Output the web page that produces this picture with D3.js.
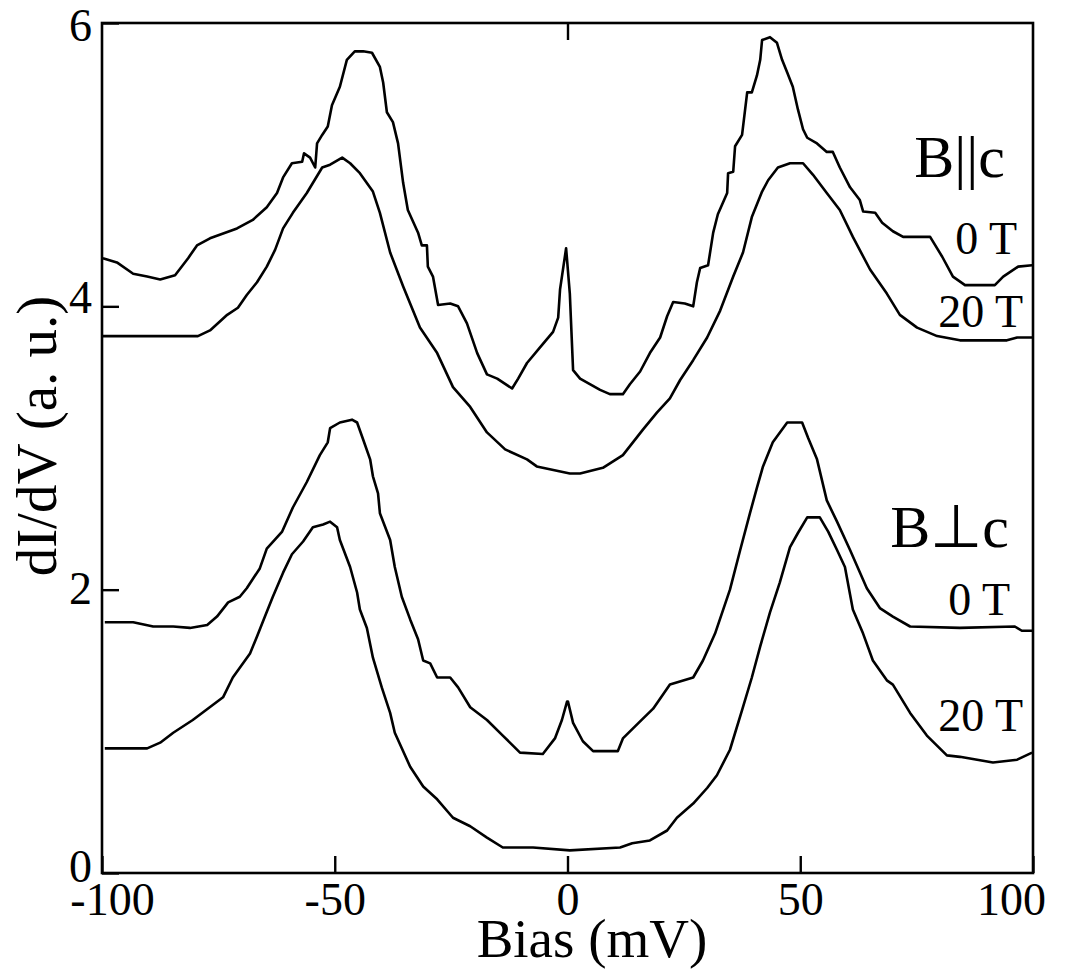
<!DOCTYPE html>
<html>
<head>
<meta charset="utf-8">
<script src="https://cdn.jsdelivr.net/npm/d3@7"></script>
<style>
  html, body { margin: 0; padding: 0; background: #fff; }
  svg { display: block; }
  text { font-family: "Liberation Serif", "Times New Roman", serif; fill: #000; }
</style>
</head>
<body>
<div id="chart"></div>
<script>
// ---------------- data ----------------
const xTicks = [-100, -50, 0, 50, 100];
const yTicks = [0, 2, 4, 6];
const topTicks = [0];

// B || c, 0 T  [bias (mV), dI/dV]
const parallel0T = [
  [-99.8,4.34],[-96.8,4.31],[-93.3,4.23],[-90.3,4.21],[-87.5,4.19],[-84.3,4.22],[-81.5,4.34],
  [-79.6,4.43],[-76.8,4.48],[-71.0,4.55],[-67.6,4.61],[-64.6,4.70],[-62.4,4.80],[-61.1,4.91],
  [-59.2,5.01],[-57.0,5.02],[-56.6,5.08],[-55.3,5.05],[-54.2,4.98],[-53.8,5.15],[-52.7,5.21],
  [-51.5,5.27],[-50.6,5.42],[-48.9,5.55],[-47.4,5.74],[-45.7,5.80],[-43.9,5.80],[-42.0,5.79],
  [-40.3,5.69],[-39.6,5.58],[-38.8,5.37],[-37.5,5.30],[-36.4,5.15],[-35.3,4.87],[-34.3,4.68],
  [-32.1,4.52],[-31.3,4.43],[-30.2,4.43],[-30.0,4.28],[-28.9,4.21],[-27.8,4.01],[-25.2,4.02],
  [-23.5,4.00],[-21.6,3.88],[-19.4,3.67],[-17.3,3.52],[-15.1,3.49],[-11.9,3.42],[-10.6,3.49],
  [-8.7,3.60],[-5.9,3.71],[-3.1,3.82],[-2.0,3.92],[-1.6,4.12],[-0.3,4.41],[0.5,4.09],
  [1.2,3.55],[2.7,3.49],[7.0,3.41],[9.1,3.38],[11.9,3.38],[13.4,3.45],[15.6,3.54],
  [17.7,3.67],[19.9,3.78],[21.4,3.93],[22.7,4.03],[25.2,4.02],[27.0,4.00],[27.8,4.17],
  [28.5,4.27],[30.2,4.29],[31.3,4.52],[32.3,4.65],[34.3,4.80],[34.5,4.94],[35.6,4.95],
  [36.0,5.13],[37.5,5.21],[38.6,5.51],[39.6,5.51],[40.7,5.63],[41.4,5.74],[41.8,5.88],
  [43.5,5.90],[45.0,5.86],[46.1,5.74],[47.2,5.65],[48.4,5.55],[49.5,5.39],[50.6,5.25],
  [51.5,5.19],[53.6,5.15],[55.7,5.09],[57.0,5.09],[58.5,4.98],[60.7,4.84],[62.8,4.75],
  [63.5,4.67],[66.1,4.66],[67.6,4.59],[69.9,4.53],[72.1,4.49],[77.9,4.49],[80.5,4.35],
  [82.8,4.21],[85.4,4.15],[91.8,4.15],[93.6,4.21],[96.8,4.28],[99.8,4.29]
];

// B || c, 20 T
const parallel20T = [
  [-99.8,3.79],[-79.4,3.79],[-76.8,3.83],[-73.1,3.94],[-70.8,3.99],[-68.9,4.08],[-66.7,4.17],
  [-64.6,4.28],[-62.8,4.40],[-61.1,4.55],[-59.0,4.66],[-56.0,4.80],[-52.7,4.98],[-51.0,5.00],
  [-48.4,5.05],[-46.7,5.01],[-44.6,4.94],[-41.8,4.81],[-40.3,4.66],[-38.1,4.38],[-35.3,4.14],
  [-31.7,3.85],[-28.0,3.67],[-24.6,3.43],[-20.9,3.29],[-17.3,3.11],[-13.4,2.99],[-8.7,2.92],
  [-6.6,2.87],[0.5,2.82],[2.7,2.82],[7.6,2.86],[11.9,2.95],[16.2,3.13],[19.2,3.25],
  [22.0,3.35],[24.2,3.48],[27.0,3.62],[30.0,3.78],[32.8,3.97],[35.6,4.21],[37.7,4.38],
  [39.6,4.63],[41.8,4.81],[43.1,4.89],[45.2,4.98],[47.8,5.01],[50.6,5.01],[52.7,4.93],
  [55.7,4.80],[58.5,4.68],[61.3,4.49],[65.0,4.26],[68.6,4.09],[71.4,3.94],[75.1,3.85],
  [79.4,3.79],[84.3,3.76],[94.4,3.76],[96.6,3.78],[99.8,3.78]
];

// B ⊥ c, 0 T
const perp0T = [
  [-99.4,1.77],[-93.3,1.77],[-89.0,1.74],[-84.7,1.74],[-81.1,1.73],[-77.4,1.75],[-75.3,1.81],
  [-72.9,1.91],[-70.4,1.95],[-68.9,2.01],[-66.1,2.15],[-64.6,2.29],[-61.3,2.41],[-59.0,2.58],
  [-56.0,2.76],[-53.2,2.95],[-51.5,3.04],[-51.0,3.14],[-48.9,3.18],[-46.3,3.20],[-45.2,3.18],
  [-43.9,3.06],[-42.4,2.92],[-41.8,2.80],[-40.7,2.68],[-40.3,2.54],[-38.1,2.35],[-37.1,2.16],
  [-35.6,1.95],[-33.8,1.79],[-32.1,1.65],[-31.0,1.50],[-29.5,1.48],[-28.0,1.38],[-25.2,1.38],
  [-23.5,1.31],[-20.9,1.17],[-17.3,1.08],[-13.9,0.97],[-10.2,0.85],[-5.3,0.84],[-2.7,0.95],
  [-1.2,1.08],[-0.1,1.21],[0.1,1.21],[1.2,1.06],[3.3,0.93],[5.5,0.86],[10.8,0.86],
  [11.9,0.95],[15.6,1.07],[18.4,1.16],[22.0,1.33],[27.0,1.38],[29.1,1.50],[31.7,1.69],
  [34.9,2.00],[37.1,2.28],[39.2,2.54],[40.7,2.72],[42.0,2.87],[44.1,3.04],[47.2,3.18],
  [50.4,3.18],[51.7,3.07],[53.6,2.92],[55.7,2.63],[57.9,2.48],[60.7,2.28],[64.3,2.01],
  [67.1,1.87],[69.9,1.81],[73.6,1.74],[84.3,1.73],[96.1,1.74],[97.6,1.71],[99.8,1.71]
];

// B ⊥ c, 20 T
const perp20T = [
  [-99.4,0.88],[-90.3,0.88],[-87.5,0.92],[-84.7,0.99],[-80.5,1.08],[-74.0,1.24],[-71.9,1.38],
  [-68.2,1.55],[-66.7,1.67],[-65.0,1.81],[-63.3,1.95],[-61.1,2.12],[-59.2,2.25],[-56.8,2.34],
  [-54.7,2.44],[-52.5,2.46],[-51.0,2.48],[-49.5,2.44],[-48.9,2.35],[-46.7,2.16],[-45.2,1.98],
  [-44.6,1.86],[-43.1,1.73],[-41.8,1.52],[-39.9,1.31],[-38.1,1.13],[-37.1,0.99],[-33.8,0.75],
  [-31.0,0.61],[-28.0,0.52],[-24.6,0.39],[-20.9,0.33],[-17.3,0.25],[-13.9,0.18],[-7.4,0.18],
  [0.5,0.16],[11.3,0.18],[13.9,0.21],[17.7,0.23],[21.4,0.30],[23.5,0.39],[27.0,0.49],
  [30.0,0.60],[32.1,0.69],[34.9,0.87],[37.5,1.15],[39.6,1.38],[41.4,1.60],[43.5,1.84],
  [45.6,2.05],[47.8,2.30],[49.5,2.40],[51.5,2.51],[54.2,2.51],[56.0,2.41],[57.9,2.28],
  [59.6,2.16],[61.3,1.86],[63.5,1.69],[65.6,1.50],[68.6,1.36],[69.9,1.33],[73.6,1.13],
  [77.2,0.97],[81.5,0.83],[84.3,0.82],[91.4,0.78],[96.6,0.80],[99.8,0.85]
];

const seriesList = [parallel0T, parallel20T, perp0T, perp20T];

const groupLabels = ["B||c", "B\u22A5c"];
const fieldLabels = ["0 T", "20 T", "0 T", "20 T"];
const xTitle = "Bias (mV)";
const yTitle = "dI/dV (a. u.)";

// ---------------- layout ----------------
const W = 1075, H = 971;
const L = 102, R = 1033, T = 23, B = 873;

const svg = d3.select("#chart").append("svg")
  .attr("width", W).attr("height", H)
  .style("background", "#fff");

const x = d3.scaleLinear().domain([-100, 100]).range([L, R]);
const y = d3.scaleLinear().domain([0, 6]).range([B, T]);

// curves
const line = d3.line().x(d => x(d[0])).y(d => y(d[1]));
svg.append("g").selectAll("path").data(seriesList).join("path")
  .attr("d", line)
  .attr("fill", "none")
  .attr("stroke", "#000")
  .attr("stroke-width", 2.6)
  .attr("stroke-linejoin", "round");

// frame
svg.append("rect")
  .attr("x", L).attr("y", T).attr("width", R - L).attr("height", B - T)
  .attr("fill", "none").attr("stroke", "#000").attr("stroke-width", 2.6);

// bottom axis
const xLabelShift = {"-100": 10, "100": -22};
const gx = svg.append("g").attr("transform", `translate(0,${B})`)
  .call(d3.axisBottom(x).tickValues(xTicks).tickSize(-17).tickFormat(d3.format("d")));
gx.select(".domain").remove();
gx.selectAll(".tick line").attr("stroke", "#000").attr("stroke-width", 2.4);
gx.selectAll(".tick text")
  .attr("y", 42).attr("dy", 0)
  .attr("font-size", 46)
  .attr("font-family", "Liberation Serif, serif")
  .attr("dx", d => xLabelShift[String(d)] || 0)
  .text(d => d < 0 ? "-" + Math.abs(d) : String(d));

// top axis (single tick at 0)
const gt = svg.append("g").attr("transform", `translate(0,${T})`)
  .call(d3.axisTop(x).tickValues(topTicks).tickSize(-17).tickFormat(""));
gt.select(".domain").remove();
gt.selectAll(".tick line").attr("stroke", "#000").attr("stroke-width", 2.4);

// left axis
const yLabelShift = {"0": -5, "2": 0, "4": -8, "6": 4};
const gy = svg.append("g").attr("transform", `translate(${L},0)`)
  .call(d3.axisLeft(y).tickValues(yTicks).tickSize(-17).tickFormat(d3.format("d")));
gy.select(".domain").remove();
gy.selectAll(".tick line").attr("stroke", "#000").attr("stroke-width", 2.4);
gy.selectAll(".tick text")
  .attr("x", -10).attr("dy", "0.3em")
  .attr("y", d => yLabelShift[String(d)] || 0)
  .attr("font-size", 46)
  .attr("font-family", "Liberation Serif, serif");

// axis titles
svg.append("text")
  .attr("x", 592).attr("y", 957)
  .attr("text-anchor", "middle")
  .attr("font-size", 55)
  .text(xTitle);

svg.append("text")
  .attr("transform", "translate(56,436) rotate(-90)")
  .attr("text-anchor", "middle")
  .attr("font-size", 57)
  .text(yTitle);

// annotations
const ann = [
  {t: groupLabels[0], x: 1005, y: 177, s: 60},
  {t: fieldLabels[0], x: 1017, y: 254, s: 46},
  {t: fieldLabels[1], x: 1023, y: 327, s: 46},
  {t: groupLabels[1], x: 1009, y: 547, s: 60},
  {t: fieldLabels[2], x: 1010, y: 615, s: 46},
  {t: fieldLabels[3], x: 1023, y: 731, s: 46}
];
svg.append("g").selectAll("text").data(ann).join("text")
  .attr("x", d => d.x).attr("y", d => d.y)
  .attr("text-anchor", "end")
  .attr("font-size", d => d.s)
  .text(d => d.t);
</script>
</body>
</html>
